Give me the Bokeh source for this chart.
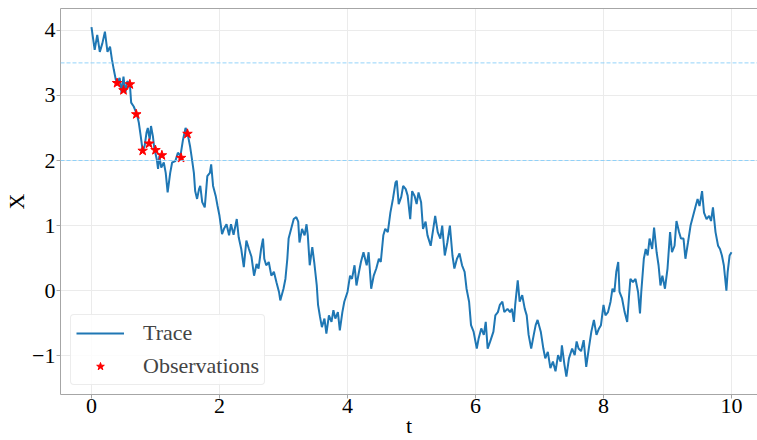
from bokeh.plotting import figure
from bokeh.models import (Span, Range1d, FixedTicker, LinearAxis, Legend, LegendItem,
                          CustomJSTickFormatter)
from bokeh.embed import file_html
from bokeh.resources import INLINE

# ---- data ----
trace_t = [
    0.00, 0.05, 0.09, 0.13, 0.17, 0.21, 0.25, 0.29, 0.32, 0.35,
    0.38, 0.41, 0.44, 0.47, 0.50, 0.53, 0.56, 0.60, 0.62, 0.66,
    0.71, 0.74, 0.77, 0.80, 0.83, 0.86, 0.88, 0.91, 0.93, 0.96,
    0.98, 1.02, 1.04, 1.06, 1.09, 1.13, 1.16, 1.19, 1.23, 1.26,
    1.31, 1.35, 1.39, 1.43, 1.47, 1.50, 1.54, 1.57, 1.60, 1.62,
    1.65, 1.68, 1.70, 1.73, 1.77, 1.81, 1.85, 1.87, 1.90, 1.94,
    1.97, 2.00, 2.04, 2.07, 2.11, 2.15, 2.18, 2.22, 2.27, 2.30,
    2.34, 2.38, 2.42, 2.46, 2.50, 2.54, 2.58, 2.61, 2.65, 2.68,
    2.70, 2.73, 2.77, 2.81, 2.85, 2.89, 2.93, 2.95, 3.00, 3.03,
    3.06, 3.08, 3.12, 3.16, 3.20, 3.23, 3.25, 3.29, 3.33, 3.36,
    3.38, 3.41, 3.45, 3.48, 3.52, 3.54, 3.57, 3.60, 3.64, 3.67,
    3.71, 3.75, 3.78, 3.81, 3.85, 3.88, 3.92, 3.95, 4.00, 4.04,
    4.07, 4.11, 4.14, 4.18, 4.21, 4.25, 4.30, 4.33, 4.37, 4.41,
    4.45, 4.49, 4.52, 4.56, 4.59, 4.63, 4.67, 4.71, 4.75, 4.77,
    4.80, 4.84, 4.87, 4.91, 4.94, 4.98, 5.01, 5.05, 5.08, 5.11,
    5.15, 5.18, 5.22, 5.25, 5.30, 5.34, 5.37, 5.41, 5.45, 5.48,
    5.52, 5.56, 5.60, 5.64, 5.67, 5.71, 5.75, 5.79, 5.83, 5.86,
    5.90, 5.93, 5.97, 6.02, 6.05, 6.09, 6.13, 6.16, 6.19, 6.23,
    6.28, 6.31, 6.35, 6.38, 6.42, 6.45, 6.50, 6.54, 6.57, 6.60,
    6.62, 6.66, 6.69, 6.73, 6.77, 6.80, 6.83, 6.87, 6.91, 6.94,
    6.97, 7.02, 7.06, 7.09, 7.13, 7.17, 7.21, 7.25, 7.29, 7.33,
    7.35, 7.39, 7.42, 7.46, 7.51, 7.55, 7.58, 7.61, 7.65, 7.69,
    7.73, 7.77, 7.81, 7.85, 7.89, 7.93, 7.96, 8.00, 8.03, 8.07,
    8.11, 8.14, 8.17, 8.20, 8.23, 8.25, 8.29, 8.33, 8.37, 8.40,
    8.42, 8.46, 8.50, 8.54, 8.57, 8.59, 8.63, 8.66, 8.69, 8.72,
    8.76, 8.79, 8.83, 8.86, 8.89, 8.92, 8.96, 9.00, 9.04, 9.07,
    9.11, 9.14, 9.18, 9.21, 9.25, 9.28, 9.32, 9.36, 9.40, 9.44,
    9.47, 9.50, 9.54, 9.57, 9.61, 9.65, 9.68, 9.71, 9.75, 9.79,
    9.82, 9.85, 9.88, 9.92, 9.94, 9.97, 10.00,
]
trace_x = [
    4.05, 3.70, 3.93, 3.67, 3.80, 3.98, 3.67, 3.75, 3.55, 3.39,
    3.24, 3.21, 3.27, 3.04, 3.29, 3.04, 3.22, 3.17, 2.89, 2.83,
    2.71, 2.58, 2.37, 2.15, 2.22, 2.43, 2.50, 2.32, 2.53, 2.37,
    2.20, 2.02, 1.87, 2.07, 1.89, 1.97, 1.81, 1.51, 1.81, 1.97,
    1.99, 2.12, 2.07, 2.32, 2.50, 2.42, 2.22, 2.02, 1.81, 1.53,
    1.41, 1.56, 1.61, 1.36, 1.28, 1.76, 1.81, 1.94, 1.61, 1.46,
    1.30, 1.15, 0.87, 0.95, 1.02, 0.85, 1.02, 0.86, 1.10, 0.82,
    0.64, 0.36, 0.77, 0.64, 0.52, 0.23, 0.41, 0.34, 0.64, 0.80,
    0.49, 0.39, 0.44, 0.23, 0.29, 0.13, -0.02, -0.15, 0.03, 0.18,
    0.49, 0.80, 0.95, 1.10, 1.13, 1.06, 0.74, 0.95, 0.85, 1.02,
    0.85, 0.39, 0.67, 0.44, 0.08, -0.22, -0.40, -0.56, -0.43, -0.66,
    -0.38, -0.48, -0.30, -0.43, -0.33, -0.61, -0.33, -0.17, -0.02, 0.23,
    0.18, 0.39, 0.08, 0.29, 0.44, 0.59, 0.39, 0.59, 0.03, 0.23,
    0.34, 0.49, 0.44, 0.85, 0.95, 0.90, 1.20, 1.41, 1.66, 1.69,
    1.33, 1.44, 1.61, 1.56, 1.46, 1.10, 1.53, 1.45, 1.33, 1.51,
    1.36, 0.95, 1.06, 0.85, 0.69, 0.95, 1.15, 0.90, 0.80, 1.00,
    0.54, 0.74, 1.00, 0.54, 0.34, 0.49, 0.57, 0.39, 0.29, 0.03,
    -0.17, -0.53, -0.63, -0.89, -0.73, -0.58, -0.68, -0.48, -0.89, -0.78,
    -0.63, -0.38, -0.33, -0.22, -0.17, -0.33, -0.28, -0.33, -0.28, -0.48,
    -0.22, 0.16, -0.17, -0.07, -0.28, -0.38, -0.68, -0.89, -0.68, -0.53,
    -0.45, -0.63, -0.89, -1.04, -0.94, -1.19, -1.09, -1.24, -0.99, -1.09,
    -0.84, -1.14, -1.32, -1.04, -0.89, -0.99, -0.78, -0.89, -0.93, -0.76,
    -1.17, -0.89, -0.63, -0.45, -0.68, -0.58, -0.53, -0.22, -0.38, -0.33,
    -0.17, 0.03, -0.02, 0.29, 0.44, -0.02, -0.12, -0.33, -0.48, -0.07,
    0.18, 0.13, 0.18, -0.02, -0.35, -0.02, 0.49, 0.64, 0.54, 0.80,
    0.64, 0.97, 0.59, 0.39, 0.08, 0.23, 0.03, 0.34, 0.90, 0.59,
    0.69, 1.07, 0.90, 0.80, 0.80, 0.49, 0.74, 1.00, 1.15, 1.30,
    1.41, 1.30, 1.53, 1.20, 1.10, 1.15, 1.07, 1.28, 0.90, 0.69,
    0.64, 0.54, 0.39, 0.00, 0.29, 0.54, 0.59,
]
obs_t = [0.4, 0.5, 0.6, 0.7, 0.8, 0.9, 1.0, 1.1, 1.4, 1.5]
obs_x = [3.19, 3.08, 3.17, 2.71, 2.15, 2.26, 2.16, 2.08, 2.04, 2.41]
levels = [3.5, 2.0]
x_ticks = [0, 2, 4, 6, 8, 10]
y_ticks = [-1, 0, 1, 2, 3, 4]

FONT = "Liberation Serif"
SPINE = "#a6a6a6"

p = figure(width=757, height=440, output_backend="svg", toolbar_location=None,
           x_range=Range1d(-0.484, 10.406), y_range=Range1d(-1.596, 4.336),
           min_border_left=60, min_border_right=0, min_border_top=8,
           min_border_bottom=44, x_axis_label="t", y_axis_label="X")
p.outline_line_color = None
p.background_fill_color = "white"

minus_fmt = "return (tick < 0 ? '\u2212' : '') + Math.abs(tick).toString();"

for ax, ticks in ((p.xaxis[0], x_ticks), (p.yaxis[0], y_ticks)):
    ax.ticker = FixedTicker(ticks=ticks)
    ax.formatter = CustomJSTickFormatter(code=minus_fmt)
    ax.minor_tick_line_color = None
    ax.major_tick_in = 0
    ax.major_tick_out = 4
    ax.major_tick_line_color = SPINE
    ax.axis_line_color = SPINE
    ax.major_label_text_font = FONT
    ax.major_label_text_font_size = "22px"
    ax.major_label_text_color = "black"
    ax.axis_label_text_font = FONT
    ax.axis_label_text_font_size = "22px"
    ax.axis_label_text_font_style = "normal"
    ax.axis_label_text_color = "black"

p.xaxis.major_label_standoff = 0
p.xaxis.axis_label_standoff = -3
p.yaxis.major_label_standoff = 1
p.yaxis.axis_label_standoff = 0

# top spine
top = LinearAxis(ticker=FixedTicker(ticks=[]), axis_line_color=SPINE,
                 major_tick_line_color=None, minor_tick_line_color=None,
                 major_tick_out=0, major_tick_in=0, major_label_standoff=0,
                 major_label_text_font_size="0px")
p.add_layout(top, "above")

p.xgrid.ticker = FixedTicker(ticks=x_ticks)
p.ygrid.ticker = FixedTicker(ticks=y_ticks)
p.grid.grid_line_color = "#ebebeb"
p.grid.grid_line_width = 1

for lvl in levels:
    p.add_layout(Span(location=lvl, dimension="width", line_color="#87cefa",
                      line_alpha=0.9, line_width=1, line_dash="4 2"))

r_trace = p.line(trace_t, trace_x, line_color="#1f77b4", line_width=2)
r_obs = p.scatter(obs_t, obs_x, marker="star", size=10, fill_color="red",
                  line_color="red")

legend = Legend(items=[LegendItem(label="Trace", renderers=[r_trace]),
                       LegendItem(label="Observations", renderers=[r_obs])],
                location=(10, 9), margin=0, padding=5, spacing=7,
                glyph_width=48, glyph_height=20, label_standoff=19,
                label_text_font=FONT, label_text_font_size="22px",
                border_line_color="#d9d9d9", border_line_width=1,
                background_fill_color="white", background_fill_alpha=0.85)
if "border_radius" in Legend.properties():
    legend.border_radius = 4
p.add_layout(legend, "center")

open("out.html", "w").write(file_html(p, INLINE))
